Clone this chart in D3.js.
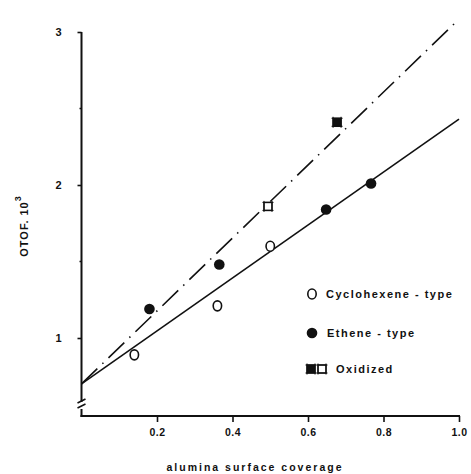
<!DOCTYPE html>
<html><head><meta charset="utf-8">
<script src="https://cdn.jsdelivr.net/npm/d3@7"></script>
<style>
body{margin:0;background:#fff;}
text{font-family:"Liberation Sans",Arial,sans-serif;font-weight:bold;fill:#111;}
</style></head>
<body><svg id="c" width="471" height="474"></svg>
<script>
const cyclohexene = [[0.14,0.89],[0.36,1.21],[0.50,1.60]];
const ethene = [[0.18,1.19],[0.365,1.48],[0.648,1.84],[0.767,2.01]];
const oxidizedFilled = [[0.677,2.41]];
const oxidizedOpen = [[0.494,1.86]];
const solidLine = [[0,0.70],[1.0,2.43]];
const dashLine = [[0,0.70],[0.99,3.06]];
const xTicks = [0.2,0.4,0.6,0.8,1.0];
const xTickLabels = ["0.2","0.4","0.6","0.8","1.0"];
const yTicks = [1,2,3];
const yMinor = [1.5,2.5];
const legendItems = ["Cyclohexene - type","Ethene - type","Oxidized"];

const svg = d3.select("#c");
const x = d3.scaleLinear().domain([0,1]).range([81.5,459]);
const y = d3.scaleLinear().domain([1,3]).range([338,32]);
const yBottom = 416;

// axes
const xAxis = d3.axisBottom(x).tickValues(xTicks).tickFormat((d,i)=>xTickLabels[i]).tickSize(6).tickPadding(7).tickSizeOuter(0);
const gx = svg.append("g").attr("transform",`translate(0,${yBottom})`).call(xAxis);
gx.select(".domain").attr("stroke","#111").attr("stroke-width",2).attr("d",`M${x(0)-1},0H${x(1)+1}`);
gx.selectAll(".tick line").attr("stroke","#111").attr("stroke-width",1.6);
gx.selectAll(".tick text").attr("font-size",10.5).attr("letter-spacing",0.5).attr("fill","#111");

const yAxis = d3.axisLeft(y).tickValues(yTicks).tickFormat(d3.format("d")).tickSize(4).tickPadding(16).tickSizeOuter(0);
const gy = svg.append("g").attr("transform",`translate(${x(0)},0)`).call(yAxis);
gy.select(".domain").remove();
gy.selectAll(".tick line").attr("stroke","#111").attr("stroke-width",1.6);
gy.selectAll(".tick text").attr("font-size",11).attr("fill","#111");
// minor ticks
svg.selectAll(".minor").data(yMinor).join("line")
  .attr("x1",x(0)-2).attr("x2",x(0)).attr("y1",d=>y(d)).attr("y2",d=>y(d))
  .attr("stroke","#111").attr("stroke-width",1.5);
// y axis line with break
const ax = x(0);
svg.append("path").attr("d",`M${ax},${y(3)}V402 M${ax},409V${yBottom+1}`)
  .attr("stroke","#111").attr("stroke-width",2).attr("fill","none");
svg.append("path").attr("d",`M${ax-4},403L${ax+4},399 M${ax-4},408L${ax+4},404`)
  .attr("stroke","#111").attr("stroke-width",1.6).attr("fill","none");

// lines
const line = d3.line().x(d=>x(d[0])).y(d=>y(d[1]));
svg.append("path").datum(solidLine).attr("d",line).attr("stroke","#111").attr("stroke-width",1.6).attr("fill","none");
svg.append("path").datum(dashLine).attr("d",line).attr("stroke","#111").attr("stroke-width",1.6).attr("fill","none")
  .attr("stroke-dasharray","22,7,1.5,7");

// markers
function openCircle(g,px,py){g.append("ellipse").attr("cx",px).attr("cy",py).attr("rx",4.2).attr("ry",5).attr("fill","#fff").attr("stroke","#111").attr("stroke-width",1.6);}
function filledCircle(g,px,py){g.append("circle").attr("cx",px).attr("cy",py).attr("r",5.3).attr("fill","#111");}
function square(g,px,py,filled){
  g.append("rect").attr("x",px-4).attr("y",py-4).attr("width",8).attr("height",8)
   .attr("fill",filled?"#111":"#fff").attr("stroke","#111").attr("stroke-width",1.5);
  g.append("path").attr("d",`M${px-5.5},${py-4}H${px+5.5} M${px-5.5},${py+4}H${px+5.5} M${px-4},${py-5.5}V${py+5.5} M${px+4},${py-5.5}V${py+5.5}`)
   .attr("stroke","#111").attr("stroke-width",1);
}
const mg = svg.append("g");
cyclohexene.forEach(d=>openCircle(mg,x(d[0]),y(d[1])));
ethene.forEach(d=>filledCircle(mg,x(d[0]),y(d[1])));
oxidizedFilled.forEach(d=>square(mg,x(d[0]),y(d[1]),true));
oxidizedOpen.forEach(d=>square(mg,x(d[0]),y(d[1]),false));

// legend
const lg = svg.append("g");
openCircle(lg,312,294);
filledCircle(lg,312,333);
square(lg,311,369,true);
square(lg,322,369,false);
lg.append("text").attr("x",326).attr("y",298).attr("font-size",11).attr("letter-spacing",1.5).text(legendItems[0]);
lg.append("text").attr("x",327).attr("y",337).attr("font-size",11).attr("letter-spacing",1.5).text(legendItems[1]);
lg.append("text").attr("x",336).attr("y",373).attr("font-size",11).attr("letter-spacing",1.5).text(legendItems[2]);

// axis titles
svg.append("text").attr("x",255).attr("y",471).attr("text-anchor","middle").attr("font-size",10.5).attr("letter-spacing",2)
  .text("alumina surface coverage");
const yt = svg.append("text").attr("transform","translate(28,226) rotate(-90)").attr("text-anchor","middle").attr("font-size",11).attr("letter-spacing",1);
yt.append("tspan").text("OTOF. 10");
yt.append("tspan").attr("dy",-7).attr("font-size",9).text("3");
</script></body></html>
